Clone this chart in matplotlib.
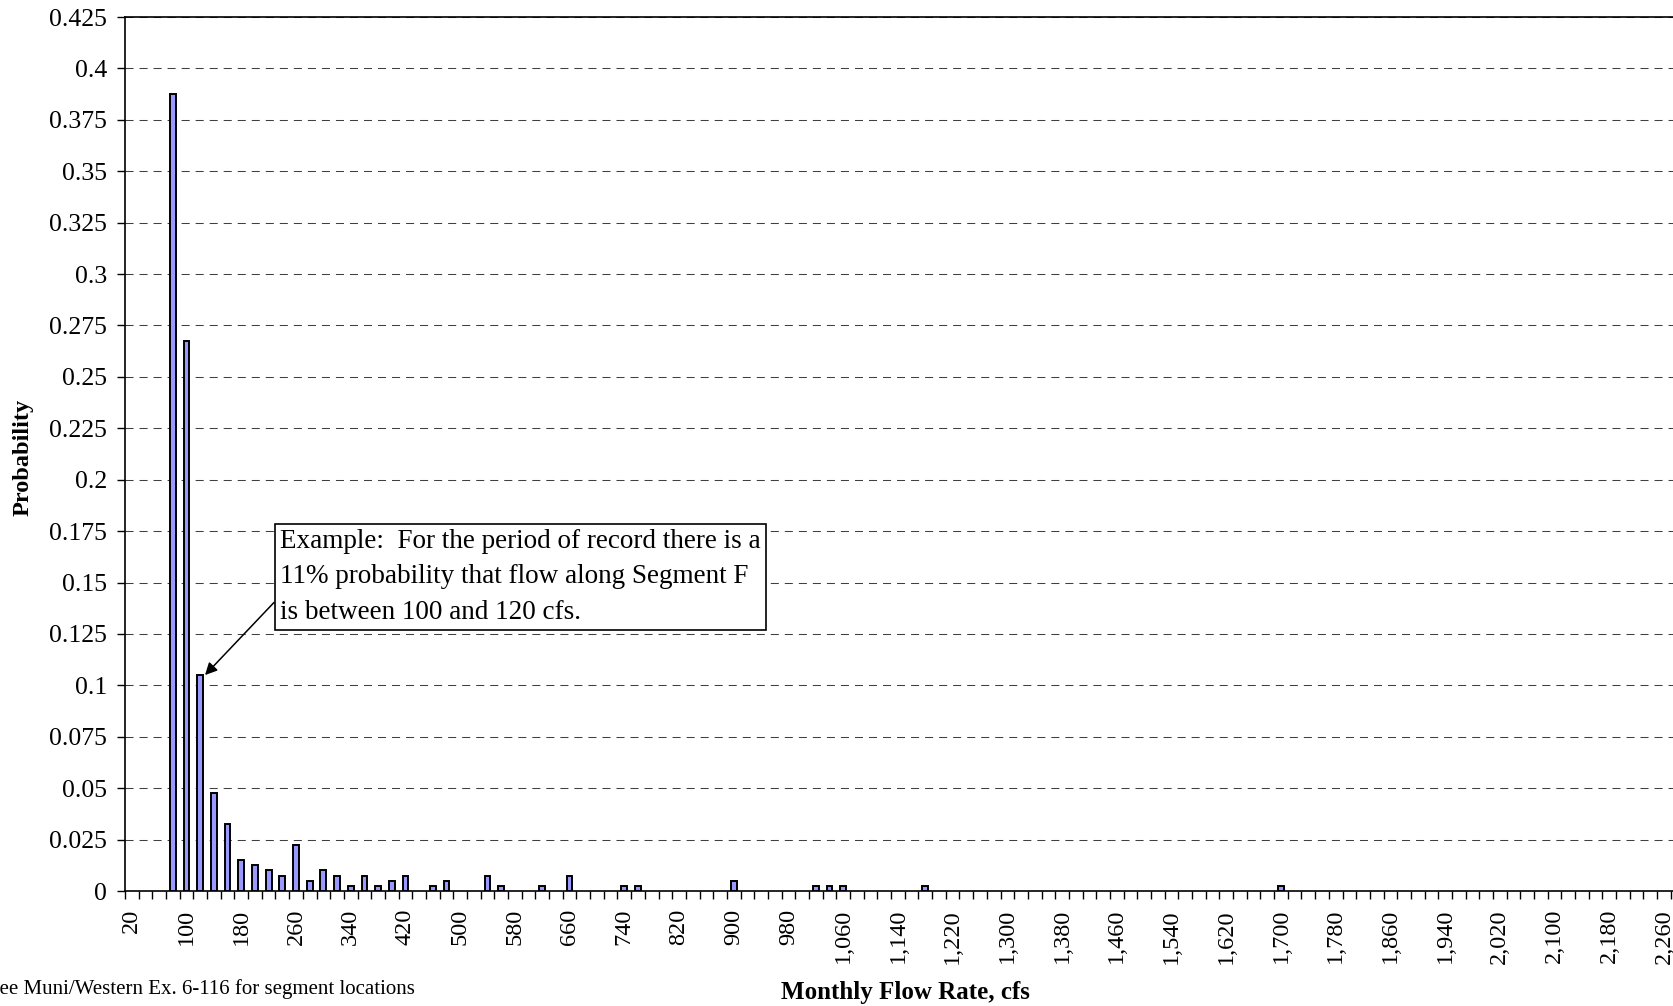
import matplotlib.pyplot as plt
import numpy as np

plt.rcParams["font.family"] = ["Liberation Serif", "DejaVu Serif"]
plt.rcParams["lines.scale_dashes"] = False

# 20 cfs flow classes, labelled by the upper edge of each class
flow_bins = list(range(20, 2340, 20))
label_step = 4

# classes that hold any months, with their share of the record
hit_bins = [80, 100, 120, 140, 160, 180, 200, 220, 240, 260, 280, 300, 320, 340,
            360, 380, 400, 420, 460, 480, 540, 560, 620, 660, 740, 760, 900,
            1020, 1040, 1060, 1180, 1700]
hit_probs = [0.3875, 0.2675, 0.105, 0.0475, 0.0325, 0.015, 0.0125, 0.01, 0.0075,
             0.0225, 0.005, 0.01, 0.0075, 0.0025, 0.0075, 0.0025, 0.005, 0.0075,
             0.0025, 0.005, 0.0075, 0.0025, 0.0025, 0.0075, 0.0025, 0.0025, 0.005,
             0.0025, 0.0025, 0.0025, 0.0025, 0.0025]

y_ticks = [0, 0.025, 0.05, 0.075, 0.1, 0.125, 0.15, 0.175, 0.2, 0.225, 0.25,
           0.275, 0.3, 0.325, 0.35, 0.375, 0.4, 0.425]

note = ("Example:  For the period of record there is a\n"
        "11% probability that flow along Segment F\n"
        "is between 100 and 120 cfs.")
note_bin = 120

W, H = 1674, 1006
cat_px = 13.68

fig = plt.figure(figsize=(W / 100, H / 100), dpi=100)
ax = fig.add_axes([125 / W, 115 / H, len(flow_bins) * cat_px / W, 874 / H])

pos = [flow_bins.index(b) for b in hit_bins]
ax.bar(pos, hit_probs, width=0.42, color="#9999FF", edgecolor="black",
       linewidth=1.4, zorder=3)

ax.set_xlim(-0.5, len(flow_bins) - 0.5)
ax.set_ylim(0, 0.425)

# tick marks sit between classes, labels on every fourth class
ax.set_xticks(np.arange(len(flow_bins) + 1) - 0.5)
ax.set_xticklabels([])
lab_idx = list(range(0, len(flow_bins), label_step))
lab_idx = [i for i in lab_idx if flow_bins[i] <= 2260]
ax.set_xticks(lab_idx, minor=True)
ax.set_xticklabels([f"{flow_bins[i]:,}" for i in lab_idx], minor=True,
                   rotation=90, fontsize=17.5)
ax.tick_params(axis="x", which="major", direction="out", length=5.5, width=1)
ax.tick_params(axis="x", which="minor", length=0, pad=13)

ax.set_yticks(y_ticks)
ax.set_yticklabels([f"{v:g}" for v in y_ticks], fontsize=18.5)
ax.tick_params(axis="y", direction="out", length=5.8, width=1, pad=7)

ax.yaxis.grid(True, color="#404040", linestyle=(0, (5.8, 4.3)), linewidth=0.75)
ax.set_axisbelow(True)
for side in ("left", "bottom", "top"):
    ax.spines[side].set_linewidth(1.2)
ax.spines["right"].set_visible(False)

ax.annotate(note, xy=(flow_bins.index(note_bin) + 0.35, hit_probs[hit_bins.index(note_bin)]),
            xytext=(10.83, 0.1527), ha="left", va="center", fontsize=19.5,
            linespacing=1.55, zorder=5,
            bbox=dict(boxstyle="square,pad=0.2", fc="white", ec="black", lw=1.2),
            arrowprops=dict(arrowstyle="-|>", color="black", lw=1.1,
                            mutation_scale=18, shrinkA=0, shrinkB=0,
                            relpos=(0, 0.3)))

fig.text(23 / W, 1 - 457 / H, "Probability", rotation=90, ha="center",
         va="center", fontsize=17.5, fontweight="bold")
fig.text(905 / W, 1 - 992 / H, "Monthly Flow Rate, cfs", ha="center",
         va="center", fontsize=18, fontweight="bold")
fig.text(-12 / W, 1 - 989 / H, "See Muni/Western Ex. 6-116 for segment locations",
         ha="left", va="center", fontsize=15)

fig.savefig("out.png", dpi=100)
